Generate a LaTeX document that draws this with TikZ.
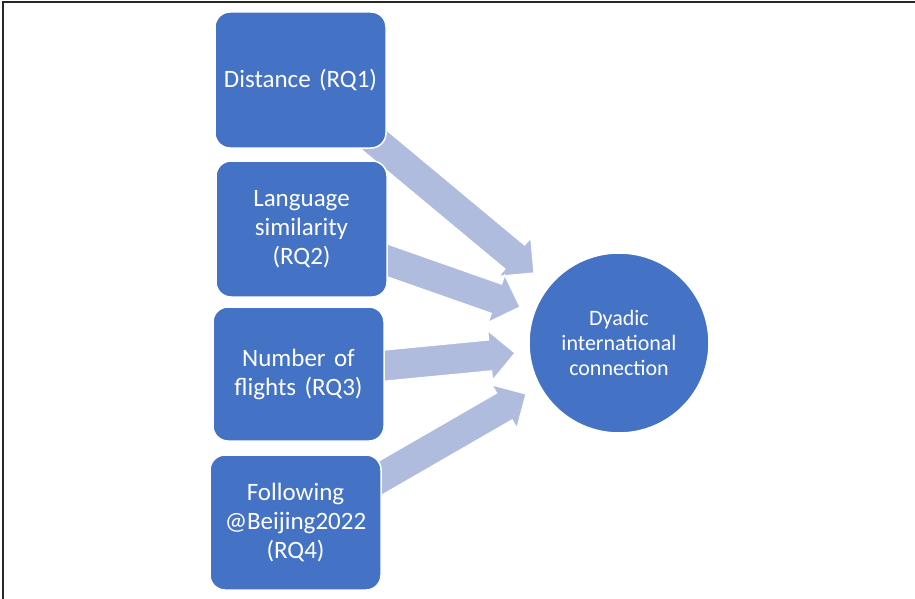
\documentclass[tikz,border=0pt]{standalone}
\usepackage{fontspec}
\setmainfont{Carlito}
\usetikzlibrary{calc}
\definecolor{boxblue}{HTML}{4472C4}
\definecolor{arrowblue}{HTML}{B0BCDE}
\definecolor{framegray}{HTML}{262626}
\tikzset{
  factorbox/.style={fill=boxblue, draw=white, line width=1.5pt, rounded corners=15pt,
    inner sep=0pt, minimum width=171pt, text width=160pt, align=center,
    text=white, font=\fontsize{25}{29}\selectfont},
  outcome/.style={circle, fill=boxblue, draw=white, line width=1.5pt, inner sep=0pt,
    minimum size=180pt, text width=150pt, align=center, text=white,
    font=\fontsize{22}{25}\selectfont},
  arrowfill/.style={fill=arrowblue, draw=white, line width=1.2pt, line join=miter},
  framestyle/.style={draw=framegray, line width=2pt}
}
\newcommand\blockarr[2]{%
  \path ($(#2)!25pt!(#1)$) coordinate (hb);
  \filldraw[arrowfill] ($(#1)!15.5pt!90:(#2)$) -- ($(hb)!15.5pt!90:(#2)$)
    -- ($(hb)!25pt!90:(#2)$) -- (#2) -- ($(hb)!25pt!-90:(#2)$)
    -- ($(hb)!15.5pt!-90:(#2)$) -- ($(#1)!15.5pt!-90:(#2)$) -- cycle;}
\begin{document}
\begin{tikzpicture}[x=1pt, y=-1pt]
\useasboundingbox (0,0) rectangle (915,599);
\fill[white] (0,0) rectangle (915,599);
\coordinate (fl) at (3,599);
\coordinate (ftl) at (3,2);
\coordinate (ftr) at (915,2);
\draw[framestyle] (fl) -- (ftl) -- (ftr);
% arrow ends
\coordinate (a1t) at (361,129);
\coordinate (a1h) at (534,273);
\coordinate (a2t) at (372,255);
\coordinate (a2h) at (520,307);
\coordinate (a3t) at (370,367);
\coordinate (a3h) at (515,353);
\coordinate (a4t) at (370,484);
\coordinate (a4h) at (526,394);
\blockarr{a1t}{a1h}
\blockarr{a2t}{a2h}
\blockarr{a3t}{a3h}
\blockarr{a4t}{a4h}
% boxes
\node[factorbox, minimum height=136pt] (b1) at (300.5,80) {Distance (RQ1)};
\node[factorbox, minimum height=136pt] (b2) at (301.5,229) {Language\\similarity\\(RQ2)};
\node[factorbox, minimum height=134pt] (b3) at (298.5,374) {Number of\\flights (RQ3)};
\node[factorbox, minimum height=135pt] (b4) at (295.5,522.5) {Following\\@Beijing2022\\(RQ4)};
\node[outcome] (out) at (619,343) {Dyadic\\international\\connection};
\end{tikzpicture}
\end{document}
